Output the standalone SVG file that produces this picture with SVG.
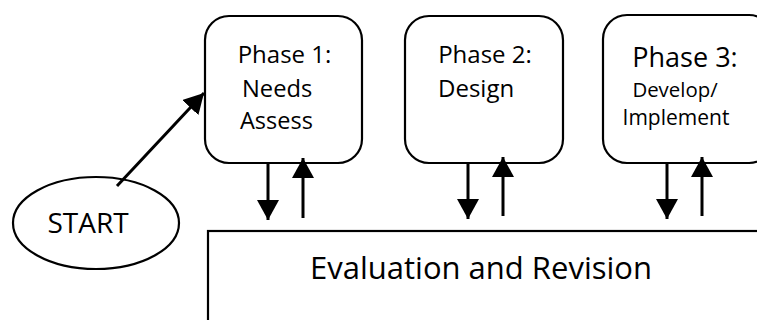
<svg xmlns="http://www.w3.org/2000/svg" width="757" height="320" viewBox="0 0 757 320">
<style>
.box{fill:#fff;stroke:#000;stroke-width:2.2}
.t{font-family:"Open Sans","Noto Sans",sans-serif;fill:#000}
.c{stroke:#000;stroke-width:3;fill:none}
</style>
<defs>
<marker id="a2" viewBox="0 0 20 22" refX="20" refY="11" markerWidth="20" markerHeight="22" markerUnits="userSpaceOnUse" orient="auto">
<path d="M0,0 L20,11 L0,22 Z" fill="#000"/>
</marker>
</defs>
<g id="eval">
<rect class="box" x="208" y="231" width="560" height="120"/>
<text class="t" x="481" y="279" font-size="31" text-anchor="middle">Evaluation and Revision</text>
</g>
<g id="start">
<ellipse class="box" cx="96" cy="223" rx="83" ry="46"/>
<text class="t" x="88" y="233" font-size="28" text-anchor="middle">START</text>
</g>
<g id="phase1">
<rect class="box" x="205" y="16" width="157" height="147" rx="24"/>
<text class="t" x="284.5" y="63" font-size="24" text-anchor="middle">Phase 1:</text>
<text class="t" x="242" y="97" font-size="23.7">Needs</text>
<text class="t" x="240" y="129" font-size="23.5">Assess</text>
</g>
<g id="phase2">
<rect class="box" x="405" y="16" width="158" height="147" rx="24"/>
<text class="t" x="485" y="63" font-size="24" text-anchor="middle">Phase 2:</text>
<text class="t" x="438" y="97" font-size="24">Design</text>
</g>
<g id="phase3">
<rect class="box" x="603" y="15" width="170" height="148" rx="24"/>
<text class="t" x="685" y="67" font-size="27" text-anchor="middle">Phase 3:</text>
<text class="t" x="675" y="97" font-size="20.4" text-anchor="middle">Develop/</text>
<text class="t" x="676" y="125" font-size="21" text-anchor="middle">Implement</text>
</g>
<g id="connectors">
<line class="c" x1="117" y1="186" x2="204" y2="93" marker-end="url(#a2)"/>
<line class="c" x1="268" y1="162" x2="268" y2="220" marker-end="url(#a2)"/>
<line class="c" x1="303" y1="218" x2="303" y2="158" marker-end="url(#a2)"/>
<line class="c" x1="468" y1="162" x2="468" y2="219" marker-end="url(#a2)"/>
<line class="c" x1="503" y1="216" x2="503" y2="157" marker-end="url(#a2)"/>
<line class="c" x1="667" y1="162" x2="667" y2="219" marker-end="url(#a2)"/>
<line class="c" x1="702" y1="216" x2="702" y2="157" marker-end="url(#a2)"/>
</g>
</svg>
